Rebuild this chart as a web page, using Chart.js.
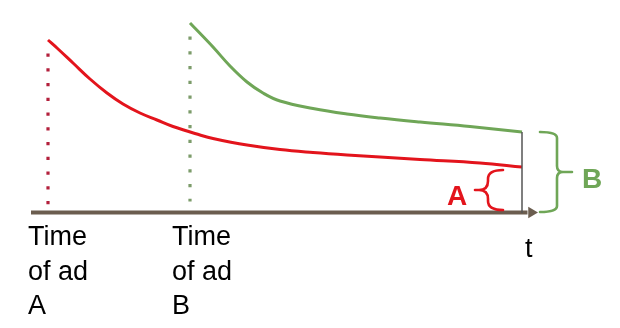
<!DOCTYPE html>
<html>
<head>
<meta charset="utf-8">
<script src="https://cdn.jsdelivr.net/npm/chart.js@4/dist/chart.umd.min.js"></script>
<style>
  html, body { margin: 0; padding: 0; background: #fff; }
  #wrap { width: 620px; height: 328px; position: relative; }
</style>
</head>
<body>
<div id="wrap"><canvas id="chart"></canvas></div>
<script>
// time values along the axis, and level above the axis
const redTime  = [48, 57, 73, 90, 107, 123, 140, 157, 173, 200, 213, 247, 280, 313, 347, 380, 420, 480, 522];
const redLevel = [173, 165, 150, 134, 120, 109, 100, 93, 86.5, 78, 74.5, 68, 63.5, 60.5, 58, 56, 53.5, 50, 46];
const greenTime  = [190, 213, 230, 247, 263, 280, 313, 347, 380, 420, 470, 522];
const greenLevel = [190, 166, 147, 131, 120, 112, 104.5, 99, 95, 91, 86.5, 81];

const adTimes = [48, 190];
const redDotLevels = [159.5, 8.5];
const greenDotLevels = [176.5, 11.5];
const endTime = 522;
const axisStart = 31;
const axisEnd = 531.5;

const adLabelsA = ["Time", "of ad", "A"];
const adLabelsB = ["Time", "of ad", "B"];
const labelTimes = [28, 172];
const labelLevels = [-32, -67, -101];

const RED = "#e3141c";
const GREEN = "#6fa657";

const pts = (xs, ys) => xs.map((x, i) => ({ x: x, y: ys[i] }));

// braces drawn through the scales: ends, spine, tip in time units; top/mid/bottom in level units
const braces = [
  { end: 503, spine: 488, tip: 475, top: 43, mid: 23, bottom: 3, r: 9, color: RED, text: "A", tx: 457, ty: 16 },
  { end: 540, spine: 557, tip: 572, top: 81, mid: 41, bottom: 1, r: 6, color: GREEN, text: "B", tx: 592, ty: 33 }
];

const overlay = {
  id: "overlay",
  afterDatasetsDraw(chart) {
    const ctx = chart.ctx;
    const xs = chart.scales.x, ys = chart.scales.y;
    const px = v => xs.getPixelForValue(v);
    const py = v => ys.getPixelForValue(v);
    ctx.save();
    braces.forEach(b => {
      const xe = px(b.end), xsp = px(b.spine), xt = px(b.tip);
      const yt = py(b.top), ym = py(b.mid), yb = py(b.bottom);
      const dir = xt > xsp ? 1 : -1;
      const r = b.r;
      ctx.beginPath();
      ctx.moveTo(xe, yt);
      ctx.quadraticCurveTo(xsp, yt, xsp, yt + r);
      ctx.lineTo(xsp, ym - r);
      ctx.quadraticCurveTo(xsp, ym, xsp + dir * r, ym);
      ctx.lineTo(xt, ym);
      ctx.moveTo(xsp + dir * r, ym);
      ctx.quadraticCurveTo(xsp, ym, xsp, ym + r);
      ctx.lineTo(xsp, yb - r);
      ctx.quadraticCurveTo(xsp, yb, xe, yb);
      ctx.strokeStyle = b.color;
      ctx.lineWidth = 2.6;
      ctx.lineCap = "round";
      ctx.stroke();
      ctx.font = "bold 28px 'Liberation Sans', Arial, sans-serif";
      ctx.fillStyle = b.color;
      ctx.textAlign = "center";
      ctx.textBaseline = "middle";
      ctx.fillText(b.text, px(b.tx), py(b.ty));
    });
    ctx.font = "27px 'Liberation Sans', Arial, sans-serif";
    ctx.fillStyle = "#000";
    ctx.textAlign = "left";
    ctx.textBaseline = "alphabetic";
    [adLabelsA, adLabelsB].forEach((lines, j) => {
      lines.forEach((s, i) => ctx.fillText(s, px(labelTimes[j]), py(labelLevels[i])));
    });
    ctx.fillText("t", px(525), py(-44));
    ctx.restore();
  }
};

new Chart(document.getElementById("chart"), {
  type: "scatter",
  data: {
    datasets: [
      { data: pts([adTimes[0], adTimes[0]], redDotLevels), showLine: true, borderColor: "#b3203c", borderWidth: 3.2, borderDash: [3.2, 11.56], borderCapStyle: "butt", pointRadius: 0 },
      { data: pts([adTimes[1], adTimes[1]], greenDotLevels), showLine: true, borderColor: "#7c9c6a", borderWidth: 3.2, borderDash: [3.2, 11.56], borderCapStyle: "butt", pointRadius: 0 },
      { data: pts([endTime, endTime], [0, greenLevel[greenLevel.length - 1]]), showLine: true, borderColor: "#555", borderWidth: 1.5, pointRadius: 0 },
      { data: pts(redTime, redLevel), showLine: true, borderColor: RED, borderWidth: 3, pointRadius: 0, tension: 0.4 },
      { data: pts(greenTime, greenLevel), showLine: true, borderColor: GREEN, borderWidth: 3, pointRadius: 0, tension: 0.4 },
      { data: pts([axisStart, axisEnd - 4], [0.5, 0.5]), showLine: true, borderColor: "#6b5d4f", borderWidth: 4, pointRadius: 0 },
      { data: pts([axisEnd], [0.5]), showLine: false, pointStyle: "triangle", rotation: 90, pointRadius: 6.5, backgroundColor: "#6b5d4f", borderColor: "#6b5d4f", borderWidth: 0 }
    ]
  },
  options: {
    responsive: true,
    maintainAspectRatio: false,
    animation: false,
    layout: { padding: 0, autoPadding: false },
    plugins: { legend: { display: false }, tooltip: { enabled: false } },
    events: [],
    scales: {
      x: { type: "linear", min: 0, max: 620, display: false },
      y: { type: "linear", min: -115, max: 213, display: false }
    }
  },
  plugins: [overlay]
});
</script>
</body>
</html>
